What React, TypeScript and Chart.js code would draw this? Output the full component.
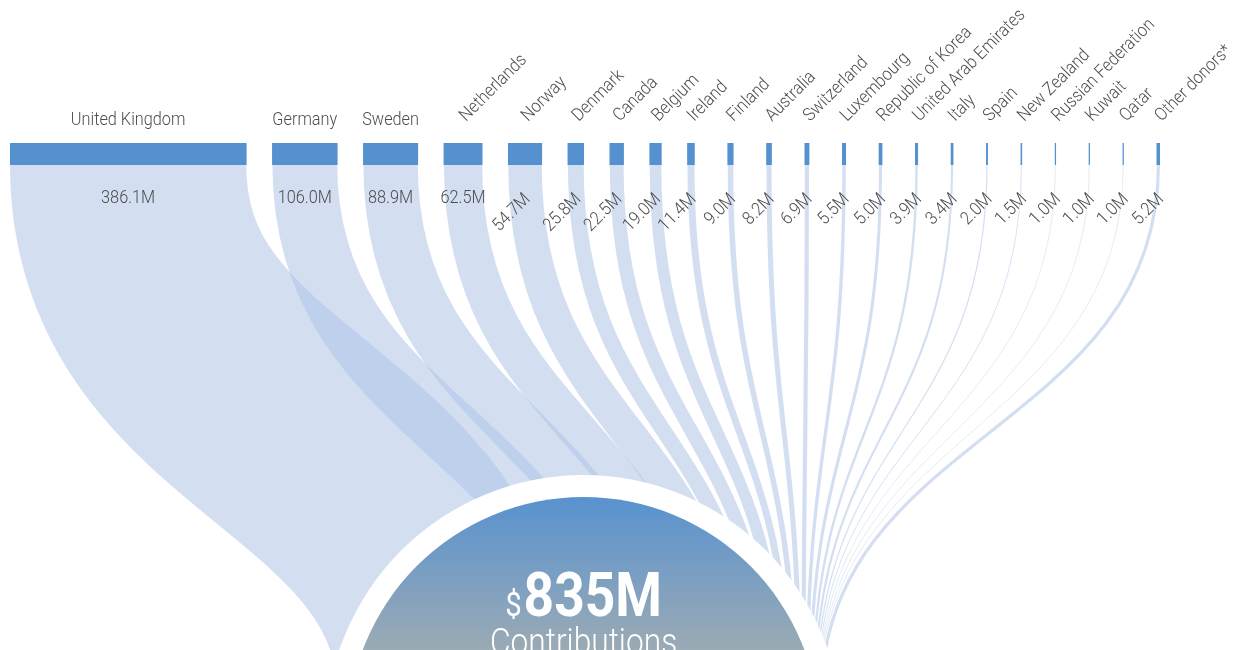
import React, { useEffect, useRef } from "react";
import { Chart, registerables } from "chart.js";

Chart.register(...registerables);

// ---------- data ----------
const DONORS: string[] = [
  "United Kingdom", "Germany", "Sweden", "Netherlands", "Norway", "Denmark",
  "Canada", "Belgium", "Ireland", "Finland", "Australia", "Switzerland",
  "Luxembourg", "Republic of Korea", "United Arab Emirates", "Italy", "Spain",
  "New Zealand", "Russian Federation", "Kuwait", "Qatar", "Other donors*",
];
const CONTRIBUTIONS: number[] = [
  386.1, 106.0, 88.9, 62.5, 54.7, 25.8, 22.5, 19.0, 11.4, 9.0, 8.2, 6.9,
  5.5, 5.0, 3.9, 3.4, 2.0, 1.5, 1.0, 1.0, 1.0, 5.2,
];
const VALUE_LABELS: string[] = CONTRIBUTIONS.map((v) => v.toFixed(1) + "M");
const TOTAL_CURRENCY = "$";
const TOTAL_LABEL = "835M";
const TOTAL_CAPTION = "Contributions";

// ---------- layout (value units on the x scale, px elsewhere) ----------
const GAP = 42.7; // gap after a large bar, in value units
const GAP_SMALL = 54.4; // gap after a small bar, in value units
const SMALL_LIMIT = 15;
const TARGET_START = 547; // where the flows land, in value units
const TARGET_K = 0.94; // compression of the landing band
const TARGET_DROP = 535; // px below the bars
const CIRCLE_DY = 33;
const R_OUTER = 258;
const R_INNER = 236;

const BAR_COLOR = "#5591cf";
const RIBBON_COLOR = "rgba(170,194,228,0.52)";
const TEXT_COLOR = "#4d4d4d";
const CONDENSE = 0.905;
const LABEL_FONT = "300 18px Roboto";

const starts: number[] = [];
{
  let pos = 0;
  CONTRIBUTIONS.forEach((v) => {
    starts.push(pos);
    pos += v + (v >= SMALL_LIMIT ? GAP : GAP_SMALL);
  });
}
const X_MAX = starts[starts.length - 1] + CONTRIBUTIONS[CONTRIBUTIONS.length - 1];

function drawText(
  ctx: CanvasRenderingContext2D,
  text: string,
  x: number,
  y: number,
  angle: number,
  align: CanvasTextAlign,
  font: string,
  color: string,
  sx = CONDENSE
) {
  ctx.save();
  ctx.translate(x, y);
  ctx.rotate(angle);
  ctx.scale(sx, 1);
  ctx.font = font;
  ctx.fillStyle = color;
  ctx.textAlign = align;
  ctx.textBaseline = "alphabetic";
  ctx.fillText(text, 0, 0);
  ctx.restore();
}

const ribbonPlugin = {
  id: "ribbons",
  beforeDatasetsDraw(chart: any) {
    const ctx: CanvasRenderingContext2D = chart.ctx;
    const x = chart.scales.x;
    const top = chart.chartArea.bottom;
    const y1 = top + TARGET_DROP;
    const ym = (top + y1) / 2;
    let cum = 0;
    ctx.save();
    ctx.lineCap = "butt";
    ctx.strokeStyle = RIBBON_COLOR;
    CONTRIBUTIONS.forEach((v, i) => {
      const sx = x.getPixelForValue(starts[i] + v / 2);
      const tx = x.getPixelForValue(TARGET_START + (cum + v / 2) * TARGET_K);
      const w = x.getPixelForValue(v) - x.getPixelForValue(0);
      cum += v;
      ctx.beginPath();
      ctx.moveTo(sx, top);
      ctx.bezierCurveTo(sx, ym, tx, ym, tx, y1);
      ctx.lineWidth = w;
      ctx.stroke();
    });
    ctx.restore();
  },
  afterDatasetsDraw(chart: any) {
    const ctx: CanvasRenderingContext2D = chart.ctx;
    const x = chart.scales.x;
    const { top, bottom } = chart.chartArea;
    const total = CONTRIBUTIONS.reduce((a, b) => a + b, 0);

    // labels
    ctx.save();
    CONTRIBUTIONS.forEach((v, i) => {
      const l = x.getPixelForValue(starts[i]);
      const r = x.getPixelForValue(starts[i] + v);
      const c = (l + r) / 2;
      const bw = r - l;
      ctx.font = LABEL_FONT;
      const nameW = ctx.measureText(DONORS[i]).width * CONDENSE;
      const valW = ctx.measureText(VALUE_LABELS[i]).width * CONDENSE;
      if (nameW <= bw + 10) {
        drawText(ctx, DONORS[i], c, top - 18, 0, "center", LABEL_FONT, TEXT_COLOR);
      } else {
        drawText(ctx, DONORS[i], c + 3, top - 21, -Math.PI / 4, "left", LABEL_FONT, TEXT_COLOR);
      }
      if (valW <= bw + 10) {
        drawText(ctx, VALUE_LABELS[i], c, bottom + 38, 0, "center", LABEL_FONT, TEXT_COLOR);
      } else {
        drawText(ctx, VALUE_LABELS[i], c + 6, bottom + 35, -Math.PI / 4, "right", LABEL_FONT, TEXT_COLOR);
      }
    });
    ctx.restore();

    // total circle
    const cx = x.getPixelForValue(TARGET_START + (total * TARGET_K) / 2);
    const cy = bottom + TARGET_DROP + CIRCLE_DY;
    ctx.save();
    ctx.beginPath();
    ctx.arc(cx, cy, R_OUTER, 0, Math.PI * 2);
    ctx.fillStyle = "#ffffff";
    ctx.fill();
    const g = ctx.createLinearGradient(0, cy - R_INNER, 0, cy - R_INNER + 155);
    g.addColorStop(0, "#5892cf");
    g.addColorStop(1, "#9cabb4");
    ctx.beginPath();
    ctx.arc(cx, cy, R_INNER, 0, Math.PI * 2);
    ctx.fillStyle = g;
    ctx.fill();
    ctx.restore();

    const bigFont = "700 62px Roboto";
    const curFont = "400 34px Roboto";
    ctx.save();
    ctx.font = bigFont;
    const bigW = ctx.measureText(TOTAL_LABEL).width * 0.86;
    ctx.font = curFont;
    const curW = ctx.measureText(TOTAL_CURRENCY).width * 0.86;
    ctx.restore();
    const startX = cx - (bigW + curW + 2) / 2;
    const baseY = cy - 117;
    drawText(ctx, TOTAL_CURRENCY, startX, baseY, 0, "left", curFont, "#ffffff", 0.86);
    drawText(ctx, TOTAL_LABEL, startX + curW + 2, baseY, 0, "left", bigFont, "#ffffff", 0.86);
    drawText(ctx, TOTAL_CAPTION, cx, baseY + 38, 0, "center", "300 36px Roboto", "#ffffff", 0.88);
  },
};

export default function App() {
  const ref = useRef<HTMLCanvasElement>(null);
  useEffect(() => {
    document.body.style.margin = "0";
    const canvas = ref.current!;
    const chart = new Chart(canvas, {
      type: "bar",
      data: {
        labels: ["donors"],
        datasets: [
          {
            label: "Contributions",
            data: CONTRIBUTIONS.map((v, i) => ({ x: [starts[i], starts[i] + v], y: "donors" })) as any,
            backgroundColor: BAR_COLOR,
            borderWidth: 0,
            borderSkipped: false,
            barPercentage: 1,
            categoryPercentage: 1,
          },
        ],
      },
      options: {
        indexAxis: "y",
        animation: false,
        responsive: false,
        events: [],
        layout: { padding: { top: 143, bottom: 485, left: 10, right: 85 } },
        plugins: { legend: { display: false }, tooltip: { enabled: false } },
        scales: {
          x: { type: "linear", min: 0, max: X_MAX, display: false },
          y: { type: "category", display: false },
        },
      },
      plugins: [ribbonPlugin],
    });
    let alive = true;
    if ((document as any).fonts) {
      Promise.all([
        (document as any).fonts.load("300 18px Roboto"),
        (document as any).fonts.load("700 62px Roboto"),
      ]).then(() => {
        if (alive) chart.draw();
      });
    }
    return () => {
      alive = false;
      chart.destroy();
    };
  }, []);
  return (
    <div style={{ width: 1245, height: 650, overflow: "hidden" }}>
      <canvas ref={ref} width={1245} height={650} style={{ display: "block" }} />
    </div>
  );
}
